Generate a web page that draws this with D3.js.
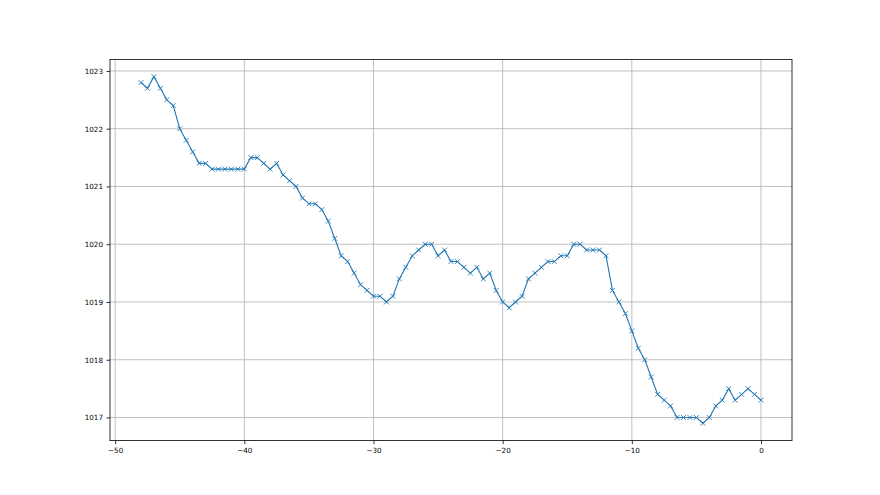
<!DOCTYPE html>
<html><head><meta charset="utf-8">
<script src="https://cdn.jsdelivr.net/npm/d3@7"></script>
<style>
html,body{margin:0;padding:0;background:#fff;}
text{font-family:"DejaVu Sans",sans-serif;}
</style></head>
<body><svg id="c" width="880" height="495"></svg>
<script>
const hours = [-48,-47.5,-47,-46.5,-46,-45.5,-45,-44.5,-44,-43.5,-43,-42.5,-42,-41.5,-41,-40.5,-40,-39.5,-39,-38.5,-38,-37.5,-37,-36.5,-36,-35.5,-35,-34.5,-34,-33.5,-33,-32.5,-32,-31.5,-31,-30.5,-30,-29.5,-29,-28.5,-28,-27.5,-27,-26.5,-26,-25.5,-25,-24.5,-24,-23.5,-23,-22.5,-22,-21.5,-21,-20.5,-20,-19.5,-19,-18.5,-18,-17.5,-17,-16.5,-16,-15.5,-15,-14.5,-14,-13.5,-13,-12.5,-12,-11.5,-11,-10.5,-10,-9.5,-9,-8.5,-8,-7.5,-7,-6.5,-6,-5.5,-5,-4.5,-4,-3.5,-3,-2.5,-2,-1.5,-1,-0.5,0];
const pressure = [1022.8,1022.7,1022.9,1022.7,1022.5,1022.4,1022.0,1021.8,1021.6,1021.4,1021.4,1021.3,1021.3,1021.3,1021.3,1021.3,1021.3,1021.5,1021.5,1021.4,1021.3,1021.4,1021.2,1021.1,1021.0,1020.8,1020.7,1020.7,1020.6,1020.4,1020.1,1019.8,1019.7,1019.5,1019.3,1019.2,1019.1,1019.1,1019.0,1019.1,1019.4,1019.6,1019.8,1019.9,1020.0,1020.0,1019.8,1019.9,1019.7,1019.7,1019.6,1019.5,1019.6,1019.4,1019.5,1019.2,1019.0,1018.9,1019.0,1019.1,1019.4,1019.5,1019.6,1019.7,1019.7,1019.8,1019.8,1020.0,1020.0,1019.9,1019.9,1019.9,1019.8,1019.2,1019.0,1018.8,1018.5,1018.2,1018.0,1017.7,1017.4,1017.3,1017.2,1017.0,1017.0,1017.0,1017.0,1016.9,1017.0,1017.2,1017.3,1017.5,1017.3,1017.4,1017.5,1017.4,1017.3];
const xTicks = [-50,-40,-30,-20,-10,0];
const yTicks = [1017,1018,1019,1020,1021,1022,1023];

const L=110, R=792, T=59.4, B=440.6;
const svg = d3.select("#c");
const data = hours.map((h,i)=>({x:h,y:pressure[i]}));
const xmin=d3.min(hours), xmax=d3.max(hours), xpad=(xmax-xmin)*0.05;
const ymin=d3.min(pressure), ymax=d3.max(pressure), ypad=(ymax-ymin)*0.05;
const x = d3.scaleLinear().domain([xmin-xpad,xmax+xpad]).range([L,R]);
const y = d3.scaleLinear().domain([ymin-ypad,ymax+ypad]).range([B,T]);

// grid
const g = svg.append("g");
g.selectAll(".vg").data(xTicks).join("line")
 .attr("x1",d=>x(d)).attr("x2",d=>x(d)).attr("y1",T).attr("y2",B)
 .attr("stroke","#b0b0b0").attr("stroke-width",0.8);
g.selectAll(".hg").data(yTicks).join("line")
 .attr("y1",d=>y(d)).attr("y2",d=>y(d)).attr("x1",L).attr("x2",R)
 .attr("stroke","#b0b0b0").attr("stroke-width",0.8);

// axes
const xAxis = d3.axisBottom(x).tickValues(xTicks).tickSize(3.5).tickPadding(3.5).tickFormat(d=>d<0?"\u2212"+Math.abs(d):String(d));
const yAxis = d3.axisLeft(y).tickValues(yTicks).tickSize(3.5).tickPadding(3.5).tickFormat(d=>String(d));
const gx = svg.append("g").attr("transform",`translate(0,${B})`).call(xAxis);
const gy = svg.append("g").attr("transform",`translate(${L},0)`).call(yAxis);
[gx,gy].forEach(a=>{
  a.select(".domain").remove();
  a.selectAll("line").attr("stroke","#000").attr("stroke-width",0.8);
  a.selectAll("text").attr("font-size",7.2).attr("fill","#000").attr("font-family","DejaVu Sans");
});

// line
const clip = svg.append("g");
clip.append("path").datum(data)
 .attr("d",d3.line().x(d=>x(d.x)).y(d=>y(d.y)))
 .attr("fill","none").attr("stroke","#1f77b4").attr("stroke-width",1.1);
const s=2.4;
clip.selectAll(".m").data(data).join("path")
 .attr("d",d=>{const cx=x(d.x),cy=y(d.y);return `M${cx-s},${cy-s}L${cx+s},${cy+s}M${cx-s},${cy+s}L${cx+s},${cy-s}`;})
 .attr("stroke","#1f77b4").attr("stroke-width",0.9).attr("fill","none");

// spines
svg.append("rect").attr("x",L).attr("y",T).attr("width",R-L).attr("height",B-T)
 .attr("fill","none").attr("stroke","#000").attr("stroke-width",0.8);
</script></body></html>
